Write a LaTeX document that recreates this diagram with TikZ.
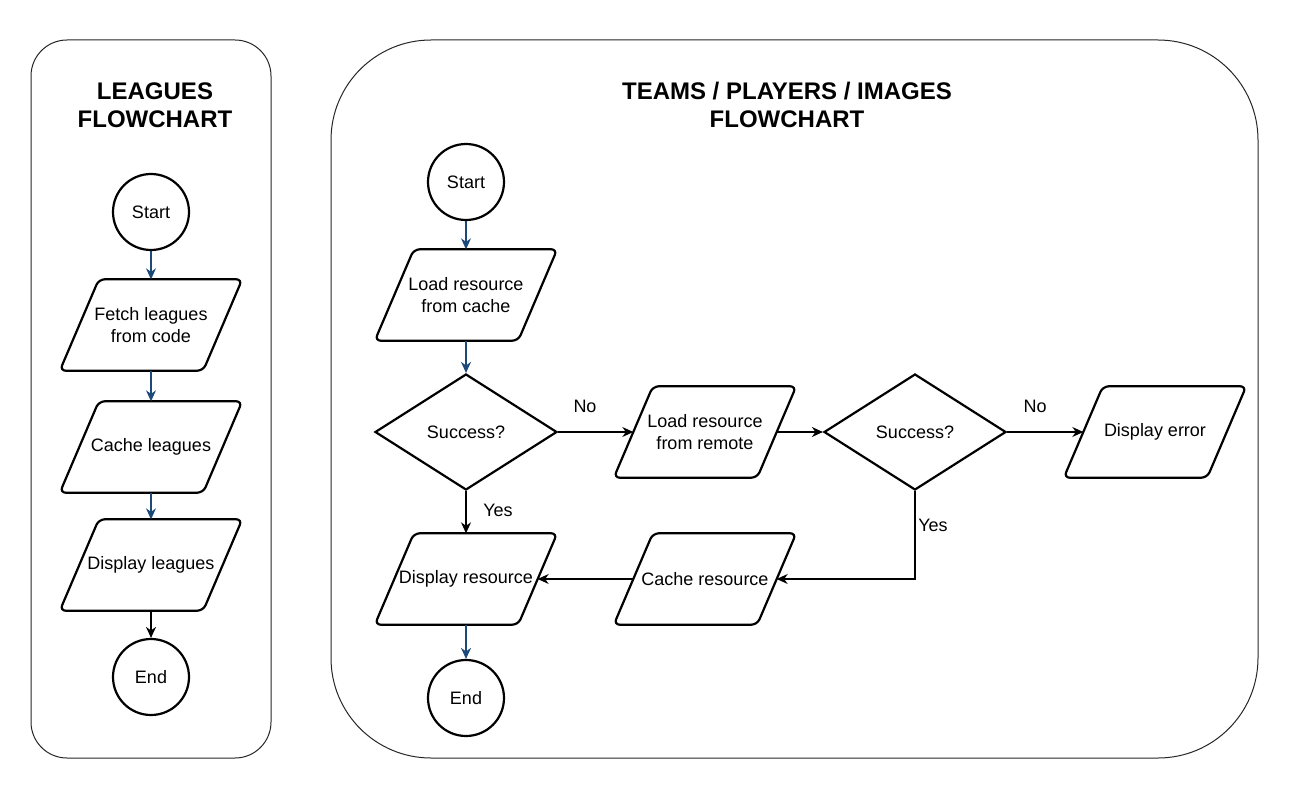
\documentclass[tikz,border=0pt]{standalone}
\usepackage{fontspec}
\setmainfont{Liberation Sans}
\usepackage{tikz}
\usetikzlibrary{shapes.geometric,arrows.meta}
\definecolor{flowblue}{HTML}{1B4A7A}

\begin{document}
\begin{tikzpicture}[x=1pt,y=-1pt,
	txt/.style={font=\fontsize{18}{22}\selectfont},
	box/.style={txt,rectangle,minimum width=143pt,minimum height=91pt,inner sep=0pt,align=center,
		append after command={\pgfextra{\draw[line width=2.2pt,rounded corners=6pt]
			([xshift=-19.5pt]\tikzlastnode.south west) -- ([xshift=19.5pt]\tikzlastnode.north west)
			-- ([xshift=19.5pt]\tikzlastnode.north east) -- ([xshift=-19.5pt]\tikzlastnode.south east) -- cycle;}}},
	term/.style={txt,circle,draw,line width=2.2pt,minimum size=76pt,inner sep=0pt},
	decide/.style={txt,diamond,draw,line width=2.2pt,minimum width=182pt,minimum height=116pt,inner sep=0pt},
	flow/.style={line width=1.3pt,-{Stealth[length=11pt,width=10pt]}},
	blueflow/.style={flow,flowblue},
	title/.style={font=\fontsize{24}{28}\selectfont\bfseries,align=center}]
	\useasboundingbox (0,0) rectangle (1290,789);
	% panels
	\draw[line width=1pt,black!85,rounded corners=36pt] (31,40) rectangle (271,758);
	\draw[line width=1pt,black!85,rounded corners=100pt] (331,40) rectangle (1258,758);
	% leagues
	\node[title] (lgtitle) at (155,105) {LEAGUES\\FLOWCHART};
	\node[term] (lstart) at (151,212) {Start};
	\node[box] (fetch) at (151,325) {Fetch leagues\\from code};
	\node[box] (lcache) at (151,447) {Cache leagues};
	\node[box] (ldisp) at (151,565) {Display leagues};
	\node[term] (lend) at (151,677) {End};
	\draw[blueflow] (lstart) -- (fetch);
	\draw[blueflow] (fetch) -- (lcache);
	\draw[blueflow] (lcache) -- (ldisp);
	\draw[flow] (ldisp) -- (lend);
	% teams / players / images
	\node[title] (tptitle) at (787,105) {TEAMS / PLAYERS / IMAGES\\FLOWCHART};
	\node[term] (rstart) at (466,182) {Start};
	\node[box] (loadcache) at (466,295) {Load resource\\from cache};
	\node[decide] (ok1) at (466,432) {Success?};
	\node[box] (loadremote) at (705,432) {Load resource\\from remote};
	\node[decide] (ok2) at (915,432) {Success?};
	\node[box] (err) at (1155,432) {Display error};
	\node[box] (rcache) at (705,579) {Cache resource};
	\node[box] (rdisp) at (466,579) {Display resource};
	\node[term] (rend) at (466,698) {End};
	\node[txt] (no1) at (585,406) {No};
	\node[txt] (no2) at (1035,406) {No};
	\node[txt] (yes1) at (498,510) {Yes};
	\node[txt] (yes2) at (933,525) {Yes};
	\draw[blueflow] (rstart) -- (loadcache);
	\draw[blueflow] (loadcache) -- (ok1);
	\draw[flow] (ok1) -- (loadremote);
	\draw[flow] (loadremote) -- (ok2);
	\draw[flow] (ok2) -- (err);
	\draw[flow] (ok1) -- (rdisp);
	\draw[flow] (ok2.south) |- (rcache.east);
	\draw[flow] (rcache) -- (rdisp);
	\draw[blueflow] (rdisp) -- (rend);
\end{tikzpicture}
\end{document}
